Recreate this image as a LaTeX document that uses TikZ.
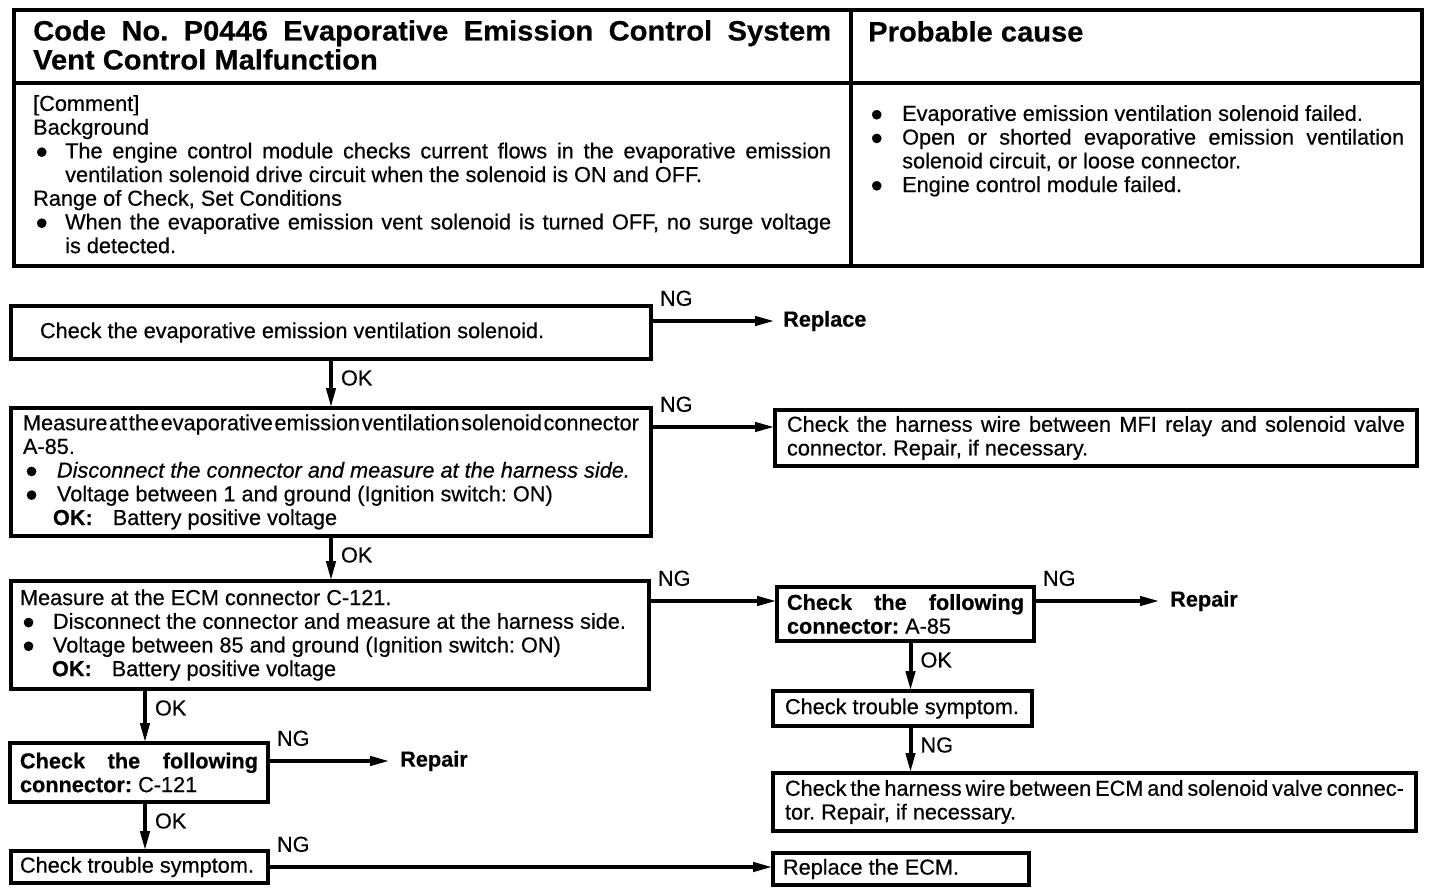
\documentclass[tikz,border=0pt]{standalone}
\usepackage{fontspec}
\setmainfont[FakeBold=0.5]{Liberation Sans}
\newfontfamily\hdfont[FakeStretch=1.04,FakeBold=0.5]{Liberation Sans}
\usetikzlibrary{arrows.meta}
\setlength\parindent{0pt}
\setlength\parskip{0pt}
\frenchspacing
\newcommand\bigdot{●}
\newcommand\bul[2][32pt]{\par\hangindent=#1\hangafter=1\noindent\makebox[#1][l]{\hspace{2pt}\bigdot}#2\par}
\newcommand\bodyfont{\fontsize{21.7pt}{23.7pt}\selectfont}
\begin{document}
\begin{tikzpicture}[x=1pt,y=-1pt,
  box/.style={draw, line width=4pt, rectangle, anchor=north west, outer sep=0pt, inner ysep=0pt, align=justify, font=\bodyfont},
  txt/.style={inner ysep=0pt, font=\bodyfont},
  arr/.style={line width=4pt, -{Triangle[length=20pt,width=9pt]}},
  ng/.style={anchor=south west, inner sep=0pt, xshift=7pt, yshift=13pt, font=\bodyfont},
  ok/.style={anchor=west, inner sep=0pt, xshift=8pt, yshift=-19pt, font=\bodyfont},
  tbl/.style={line width=4.5pt}
]
\useasboundingbox (0,0) rectangle (1440,894);

% ---------- header table ----------
\draw[tbl] (14,10) rectangle (1422,266);
\draw[tbl] (851,10) -- (851,266);
\draw[tbl] (14,83) -- (1422,83);

\node[anchor=north west, inner sep=0pt, text width=798pt, align=justify,
      font=\hdfont\bfseries\fontsize{28pt}{29pt}\selectfont] (title) at (33,20)
  {Code No. P0446 Evaporative Emission Control System\linebreak Vent Control Malfunction};
\node[anchor=north west, inner sep=0pt, font=\hdfont\bfseries\fontsize{28pt}{29pt}\selectfont] (cause) at (868,21) {Probable cause};

\node[anchor=north west, inner sep=0pt, text width=798pt, align=justify, font=\bodyfont] (comment) at (33,95) {%
[Comment]\par
Background\par
\bul{The engine control module checks current flows in the evaporative emission\linebreak ventilation solenoid drive circuit when the solenoid is ON and OFF.}
Range of Check, Set Conditions\par
\bul{When the evaporative emission vent solenoid is turned OFF, no surge voltage\linebreak is detected.}};

\node[anchor=north west, inner sep=0pt, text width=536pt, align=justify, font=\bodyfont] (causes) at (868,97) {%
\bul[34pt]{Evaporative emission ventilation solenoid failed.}
\bul[34pt]{Open or shorted evaporative emission ventilation\linebreak solenoid circuit, or loose connector.}
\bul[34pt]{Engine control module failed.}};

% ---------- flowchart boxes ----------
\node[box, minimum width=640pt, minimum height=53pt, text width=582pt, inner xsep=29pt] (b1) at (11,306)
  {Check the evaporative emission ventilation solenoid.};

\node[box, minimum width=640pt, minimum height=128pt, text width=616pt, inner xsep=12pt] (b2) at (11,408)
  {{\spaceskip=0.5pt plus 20pt Measure at the evaporative emission ventilation solenoid connector}\linebreak A-85.\par
   \bul[34pt]{\textit{Disconnect the connector and measure at the harness side.}}
   \bul[34pt]{Voltage between 1 and ground (Ignition switch: ON)}
   \hspace*{30pt}\textbf{OK:}\hspace{20pt}Battery positive voltage};

\node[box, minimum width=642pt, minimum height=56pt, text width=618pt, inner xsep=12pt] (b3) at (775,410)
  {Check the harness wire between MFI relay and solenoid valve\linebreak connector. Repair, if necessary.};

\node[box, minimum width=638pt, minimum height=108pt, text width=620pt, inner xsep=9pt] (b4) at (11,581)
  {Measure at the ECM connector C-121.\par
   \bul[33pt]{Disconnect the connector and measure at the harness side.}
   \bul[33pt]{Voltage between 85 and ground (Ignition switch: ON)}
   \hspace*{32pt}\textbf{OK:}\hspace{20pt}Battery positive voltage};

\node[box, minimum width=257pt, minimum height=54pt, text width=237pt, inner xsep=10pt] (b5) at (777,587)
  {\textbf{Check the following}\linebreak \textbf{connector:} A-85};

\node[box, minimum width=259pt, minimum height=35pt, text width=235pt, inner xsep=12pt] (b6) at (773,691)
  {Check trouble symptom.};

\node[box, minimum width=643pt, minimum height=58pt, text width=619pt, inner xsep=12pt] (b7) at (773,773)
  {{\spaceskip=1pt plus 20pt Check the harness wire between ECM and solenoid valve connec-}\linebreak tor. Repair, if necessary.};

\node[box, minimum width=258pt, minimum height=59pt, text width=238pt, inner xsep=10pt] (b8) at (10,743)
  {\textbf{Check the following}\linebreak \textbf{connector:} C-121};

\node[box, minimum width=257pt, minimum height=32pt, text width=239pt, inner xsep=9pt] (b9) at (11,851)
  {Check trouble symptom.};

\node[box, minimum width=256pt, minimum height=32pt, text width=236pt, inner xsep=10pt] (b10) at (773,853)
  {Replace the ECM.};

% ---------- free end labels ----------
\node[txt, anchor=west, inner xsep=8pt] (rep1) at (775,321) {\textbf{Replace}};
\node[txt, anchor=west, inner xsep=10pt] (rep2) at (1160,601) {\textbf{Repair}};
\node[txt, anchor=west, inner xsep=10pt] (rep3) at (390,761) {\textbf{Repair}};

% ---------- helper coordinates ----------
\coordinate (c3) at ([yshift=11pt]b3.west);
\coordinate (c5) at ([yshift=13pt]b5.west);
\coordinate (v5) at ([xshift=5pt]b5.south);
\coordinate (v8) at ([xshift=6pt]b8.north);

% ---------- connectors ----------
\draw[arr] (b1.east |- rep1.west) node[ng]{NG} -- (rep1.west);
\draw[arr] (b1.south) node[ok]{OK} -- (b1.south |- b2.north);
\draw[arr] (b2.east |- c3) node[ng]{NG} -- (c3);
\draw[arr] (b2.south) node[ok]{OK} -- (b2.south |- b4.north);
\draw[arr] (b4.east |- c5) node[ng]{NG} -- (c5);
\draw[arr] (b5.east |- rep2.west) node[ng]{NG} -- (rep2.west);
\draw[arr] (v5) node[ok]{OK} -- (v5 |- b6.north);
\draw[arr] (v5 |- b6.south) node[ok]{NG} -- (v5 |- b7.north);
\draw[arr] (v8 |- b4.south) node[ok]{OK} -- (v8);
\draw[arr] (b8.east |- rep3.west) node[ng]{NG} -- (rep3.west);
\draw[arr] (v8 |- b8.south) node[ok]{OK} -- (v8 |- b9.north);
\draw[arr] (b9.east) node[ng]{NG} -- (b9.east -| b10.west);
\end{tikzpicture}
\end{document}
